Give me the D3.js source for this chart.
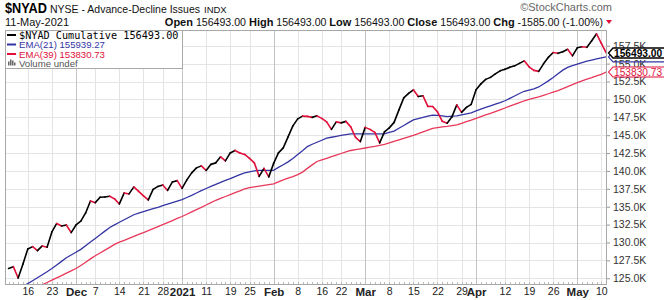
<!DOCTYPE html>
<html>
<head>
<meta charset="utf-8">
<script src="https://cdn.jsdelivr.net/npm/d3@7"></script>
<style>
    body { margin: 0; background: #fff; }
    svg { display: block; font-family: "Liberation Sans", Arial, sans-serif; }
</style>
</head>
<body>
<div id="chart"></div>
<script>
// trading calendar shown on the chart
const startDate = "2020-11-10";
const endDate = "2021-05-11";
const holidays = ["2020-11-26", "2020-12-25", "2021-01-01", "2021-01-18", "2021-02-15", "2021-04-02"];

// values in thousands, one per trading day
const nyad = [
    126.37, 126.62, 125.04, 127.0,
    129.1, 129.42, 128.86, 129.52, 129.34, 131.48, 132.66, 132.31, 132.45, 131.38,
    132.45, 133.0, 134.13, 135.81, 135.57, 136.33, 136.37, 136.47, 136.09, 135.39,
    136.93, 136.79, 137.77, 137.14, 136.51, 135.95, 137.42, 137.84, 138.05, 137.28,
    138.47, 138.65, 137.56, 138.75, 139.73, 140.43, 140.71, 140.08, 140.92, 141.13,
    141.97, 141.41, 142.52, 142.87, 142.52, 142.31, 141.76, 141.13, 139.24, 140.36,
    139.17, 141.06, 142.52, 143.22, 144.76, 146.3, 147.28, 147.66, 147.63, 147.49,
    147.7, 147.35, 146.86, 145.81, 146.86, 146.72, 146.93, 146.16, 144.69, 144.1,
    146.09, 145.81, 145.39, 143.92, 145.46, 146.02, 146.79, 148.54, 150.22, 150.85,
    151.34, 150.4, 150.5, 149.03, 149.0, 148.26, 146.93, 146.68, 147.56, 149.24,
    148.19, 148.89, 149.31, 151.34, 152.17, 152.8, 153.08, 153.57, 153.99, 154.2,
    154.48, 154.69, 155.04, 155.39, 154.55, 154.06, 153.92, 154.97, 155.88, 156.55,
    156.44, 156.65, 157.0, 156.09, 157.21, 157.35, 157.28, 158.19, 159.17, 157.84,
    156.493
];
const ema21 = [
    122.59, 123.01, 123.43, 123.84,
    124.26, 124.66, 125.08, 125.5, 125.91, 126.36, 126.86, 127.36, 127.88, 128.26,
    128.64, 129.04, 129.55, 130.06, 130.57, 131.08, 131.59, 132.1, 132.47, 132.83,
    133.18, 133.53, 133.88, 134.09, 134.3, 134.51, 134.72, 134.92, 135.14, 135.35,
    135.56, 135.78, 135.99, 136.29, 136.59, 136.92, 137.24, 137.55, 137.84, 138.12,
    138.4, 138.68, 138.94, 139.22, 139.49, 139.73, 139.87, 140.01, 140.08, 140.08,
    140.08, 140.09, 140.5, 140.87, 141.27, 141.74, 142.29, 142.83, 143.41, 143.73,
    144.01, 144.29, 144.58, 144.71, 144.83, 144.96, 145.07, 145.18, 145.18, 145.18,
    145.18, 145.18, 145.18, 145.18, 145.18, 145.38, 145.57, 145.97, 146.36, 146.76,
    147.14, 147.31, 147.48, 147.65, 147.81, 147.77, 147.69, 147.6, 147.66, 147.7,
    147.84, 147.98, 148.13, 148.4, 148.65, 148.89, 149.11, 149.34, 149.56, 149.81,
    150.15, 150.48, 150.82, 151.14, 151.31, 151.48, 151.74, 152.16, 152.59, 153.07,
    153.59, 154.09, 154.48, 154.71, 154.93, 155.14, 155.35, 155.5, 155.66, 155.81,
    155.93927
];
const ema39 = [
    121.83, 122.15, 122.48, 122.8,
    123.13, 123.45, 123.77, 124.09, 124.41, 124.73, 125.06, 125.38, 125.71, 126.03,
    126.36, 126.79, 127.24, 127.71, 128.15, 128.54, 128.93, 129.32, 129.73, 130.05,
    130.31, 130.58, 130.85, 131.13, 131.39, 131.66, 131.94, 132.22, 132.51, 132.79,
    133.07, 133.36, 133.63, 133.95, 134.27, 134.59, 134.92, 135.24, 135.57, 135.9,
    136.16, 136.43, 136.69, 136.96, 137.21, 137.48, 137.66, 137.76, 137.87, 137.98,
    138.09, 138.2, 138.47, 138.75, 138.99, 139.22, 139.48, 139.84, 140.36, 140.85,
    141.32, 141.55, 141.77, 141.99, 142.22, 142.44, 142.65, 142.86, 142.99, 143.1,
    143.21, 143.32, 143.43, 143.56, 143.7, 143.91, 144.12, 144.33, 144.54, 144.75,
    144.97, 145.22, 145.46, 145.71, 145.95, 146.06, 146.16, 146.24, 146.34, 146.44,
    146.66, 146.89, 147.11, 147.35, 147.59, 147.83, 148.06, 148.3, 148.55, 148.8,
    149.06, 149.31, 149.56, 149.81, 150.02, 150.19, 150.36, 150.57, 150.79, 151.01,
    151.24, 151.5, 151.78, 152.06, 152.34, 152.59, 152.82, 153.04, 153.28, 153.5,
    153.83073
];

const yTicks = [125, 127.5, 130, 132.5, 135, 137.5, 140, 142.5, 145, 147.5, 150, 152.5, 155, 157.5];
const tickDates = ["2020-11-16", "2020-11-23", "2020-12-01", "2020-12-07", "2020-12-14", "2020-12-21", "2020-12-28",
    "2021-01-04", "2021-01-11", "2021-01-19", "2021-01-25", "2021-02-01", "2021-02-08", "2021-02-16", "2021-02-22",
    "2021-03-01", "2021-03-08", "2021-03-15", "2021-03-22", "2021-03-29", "2021-04-01", "2021-04-12", "2021-04-19",
    "2021-04-26", "2021-05-03", "2021-05-10"];
const tickLabels = ["16", "23", "Dec", "7", "14", "21", "28", "2021", "11", "19", "25", "Feb", "8", "16", "22",
    "Mar", "8", "15", "22", "29", "Apr", "12", "19", "26", "May", "10"];
const majorLabels = ["Dec", "2021", "Feb", "Mar", "Apr", "May"];

const width = 664, height = 300;
const plot = { left: 5, right: 607, top: 30, bottom: 284 };
const black = "#000", down = "#e0103a", blue = "#3434a4", pink = "#e8385a";

const fmtDay = d3.utcFormat("%Y-%m-%d");
const days = d3.utcDay.range(new Date(startDate), d3.utcDay.offset(new Date(endDate), 1))
    .filter(d => d.getUTCDay() % 6 !== 0 && holidays.indexOf(fmtDay(d)) < 0)
    .map(fmtDay);

const x = d3.scaleLinear()
    .domain([-0.73, days.length - 1 + 0.17])
    .range([plot.left, plot.right]);
const y = d3.scaleLinear()
    .domain([124.2, 159.7])
    .range([plot.bottom, plot.top]);

const svg = d3.select("#chart").append("svg")
    .attr("width", width)
    .attr("height", height);

svg.append("defs").append("clipPath").attr("id", "plotclip")
    .append("rect")
    .attr("x", plot.left).attr("y", plot.top)
    .attr("width", plot.right - plot.left).attr("height", plot.bottom - plot.top);

// grid
const tickIdx = tickDates.map(d => days.indexOf(d));
const grid = svg.append("g");
grid.selectAll(".hgrid").data(yTicks).enter().append("line")
    .attr("x1", plot.left).attr("x2", plot.right)
    .attr("y1", d => Math.round(y(d)) + 0.5).attr("y2", d => Math.round(y(d)) + 0.5)
    .attr("stroke", "#e4e4e4");
grid.selectAll(".vgrid").data(tickIdx).enter().append("line")
    .attr("x1", d => Math.round(x(d)) + 0.5).attr("x2", d => Math.round(x(d)) + 0.5)
    .attr("y1", plot.top).attr("y2", plot.bottom)
    .attr("stroke", (d, i) => majorLabels.indexOf(tickLabels[i]) >= 0 ? "#c4c4c4" : "#e4e4e4");

// day ticks along the bottom edge
svg.append("g").selectAll("line").data(days).enter().append("line")
    .attr("x1", (d, i) => Math.round(x(i)) + 0.5).attr("x2", (d, i) => Math.round(x(i)) + 0.5)
    .attr("y1", plot.bottom - 2).attr("y2", plot.bottom)
    .attr("stroke", "#bbb");

const series = svg.append("g").attr("clip-path", "url(#plotclip)");

const line = d3.line()
    .x(d => x(d[0]))
    .y(d => y(d[1]));

series.append("path")
    .attr("d", line(ema39.map((v, i) => [i, v])))
    .attr("fill", "none").attr("stroke", pink).attr("stroke-width", 1.3);
series.append("path")
    .attr("d", line(ema21.map((v, i) => [i, v])))
    .attr("fill", "none").attr("stroke", blue).attr("stroke-width", 1.3);

// main line, black when rising, red when falling
const segs = nyad.slice(1).map((v, i) => ({ a: [i, nyad[i]], b: [i + 1, v], up: v >= nyad[i] }));
series.selectAll(".seg").data(segs).enter().append("path")
    .attr("d", d => line([d.a, d.b]))
    .attr("fill", "none")
    .attr("stroke", d => d.up ? black : down)
    .attr("stroke-width", 1.6)
    .attr("stroke-linecap", "round");

// frame
svg.append("rect")
    .attr("x", plot.left + 0.5).attr("y", plot.top + 0.5)
    .attr("width", plot.right - plot.left - 1).attr("height", plot.bottom - plot.top)
    .attr("fill", "none").attr("stroke", "#a8a8a8");

// right axis
const yAxis = svg.append("g")
    .attr("transform", "translate(" + plot.right + ",0)")
    .call(d3.axisRight(y).tickValues(yTicks).tickSize(3).tickPadding(3)
        .tickFormat(d => d.toFixed(1) + "K"));
yAxis.select(".domain").remove();
yAxis.selectAll("line").attr("stroke", "#999");
yAxis.selectAll("text").attr("font-size", 10.5).attr("fill", "#333")
    .attr("font-family", "'Liberation Sans', Arial, sans-serif");

// bottom axis
const xAxis = svg.append("g")
    .attr("transform", "translate(0," + plot.bottom + ")")
    .call(d3.axisBottom(x).tickValues(tickIdx).tickSize(0).tickPadding(4)
        .tickFormat((d, i) => tickLabels[i]));
xAxis.select(".domain").remove();
xAxis.selectAll("text")
    .attr("font-family", "'Liberation Sans', Arial, sans-serif")
    .attr("fill", "#222")
    .attr("font-size", (d, i) => majorLabels.indexOf(tickLabels[i]) >= 0 ? 11.5 : 10.5)
    .attr("font-weight", (d, i) => majorLabels.indexOf(tickLabels[i]) >= 0 ? "bold" : "normal");

// price tags on the right
function tag(value, color, fill, bold, showText) {
    const ty = y(value);
    const g = svg.append("g");
    g.append("path")
        .attr("d", "M" + (plot.right + 1.5) + "," + ty +
            " L" + (plot.right + 6) + "," + (ty - 5) +
            " L" + (width + 2) + "," + (ty - 5) +
            " L" + (width + 2) + "," + (ty + 5) +
            " L" + (plot.right + 6) + "," + (ty + 5) + " Z")
        .attr("fill", fill).attr("stroke", color).attr("stroke-width", bold ? 1.4 : 1.1);
    if (showText) {
        g.append("text")
            .attr("x", plot.right + 7).attr("y", ty + 3.6)
            .attr("font-size", 10.2)
            .attr("font-weight", bold ? "bold" : "normal")
            .attr("fill", color)
            .text((value * 1000).toFixed(2));
    }
}
tag(ema21[ema21.length - 1], blue, "none", false, false);
tag(ema39[ema39.length - 1], down, "#fff", false, true);
tag(nyad[nyad.length - 1], black, "#fff", true, true);

// legend
const legend = svg.append("g");
legend.append("rect")
    .attr("x", plot.left + 0.5).attr("y", plot.top + 0.5)
    .attr("width", 177).attr("height", 38)
    .attr("fill", "#fff").attr("stroke", "#a8a8a8");
const legendRows = [
    { text: "$NYAD Cumulative 156493.00", color: black, y: 38.5, mono: true },
    { text: "EMA(21) 155939.27", color: blue, y: 48, mono: false },
    { text: "EMA(39) 153830.73", color: down, y: 57.5, mono: false },
    { text: "Volume undef", color: "#555", y: 67, mono: false }
];
legendRows.forEach((r, i) => {
    if (i < 3) {
        legend.append("line")
            .attr("x1", 7).attr("x2", 16)
            .attr("y1", r.y - 3.5).attr("y2", r.y - 3.5)
            .attr("stroke", r.color).attr("stroke-width", 2);
    } else {
        [[8, 4], [10, 6], [12, 5], [14, 3]].forEach(b => {
            legend.append("rect").attr("x", b[0]).attr("y", r.y - 1.5 - b[1])
                .attr("width", 1.5).attr("height", b[1]).attr("fill", "#666");
        });
    }
    legend.append("text")
        .attr("x", 19).attr("y", r.y)
        .attr("font-family", r.mono ? "'DejaVu Sans Mono', monospace" : "'Liberation Sans', Arial, sans-serif")
        .attr("font-size", r.mono ? 10.2 : 9.6)
        .attr("fill", r.color)
        .text(r.text);
});

// header
const title = svg.append("text")
    .attr("x", 5).attr("y", 13)
    .attr("fill", "#111");
title.append("tspan").attr("font-size", 14).attr("font-weight", "bold").attr("fill", "#000")
    .attr("textLength", 42).attr("lengthAdjust", "spacingAndGlyphs").text("$NYAD");
title.append("tspan").attr("x", 50).attr("font-size", 10.5).text("NYSE - Advance-Decline Issues");
title.append("tspan").attr("x", 204).attr("font-size", 9.5).text("INDX");

svg.append("text")
    .attr("x", 612).attr("y", 11)
    .attr("text-anchor", "end")
    .attr("font-size", 11).attr("fill", "#666")
    .text("\u00a9StockCharts.com");
svg.append("text")
    .attr("x", 5).attr("y", 26)
    .attr("font-size", 11).attr("fill", "#111")
    .text("11-May-2021");

const quote = svg.append("text")
    .attr("x", 603).attr("y", 26)
    .attr("text-anchor", "end")
    .attr("font-size", 10.6).attr("fill", "#111");
[["Open", " 156493.00 "], ["High", " 156493.00 "], ["Low", " 156493.00 "], ["Close", " 156493.00 "], ["Chg", " -1585.00 (-1.00%)"]]
    .forEach(p => {
        quote.append("tspan").attr("font-weight", "bold").attr("font-size", 11).text(p[0]);
        quote.append("tspan").attr("xml:space", "preserve").text(p[1]);
    });
svg.append("path")
    .attr("d", "M606,20 L612,20 L609,24 Z")
    .attr("fill", down);
</script>
</body>
</html>
